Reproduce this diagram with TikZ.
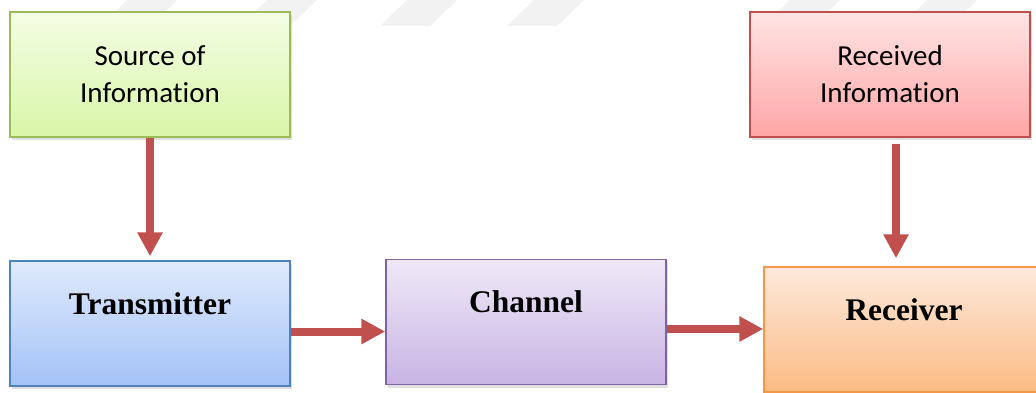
\documentclass[tikz,border=0pt]{standalone}
\usepackage{fontspec}
\setmainfont{Liberation Serif}
\newfontfamily\calibrifont[Ligatures=NoCommon]{Carlito}
\usepackage{tikz}
\usetikzlibrary{arrows.meta,shadows}

\definecolor{arrowred}{HTML}{C0504D}
\definecolor{greenline}{HTML}{9BBB59}
\definecolor{redline}{HTML}{C0504D}
\definecolor{blueline}{HTML}{4F81BD}
\definecolor{purpleline}{HTML}{8064A2}
\definecolor{orangeline}{HTML}{F79646}

\tikzset{
  block/.style={draw, line width=1.5pt, minimum width=280pt, minimum height=125pt,
    inner sep=0pt, align=center,
    drop shadow={shadow xshift=2pt, shadow yshift=-3pt, opacity=0.25}},
  infotext/.style={font=\calibrifont\fontsize{29}{37}\selectfont},
  boldtext/.style={font=\fontsize{31.5}{36}\selectfont\bfseries,
    text height=22pt, text depth=41pt},
  flow/.style={draw=arrowred, line width=8pt, -{Triangle[width=24pt,length=24pt]}},
  band/.style={fill=black!5, draw=none}
}

\begin{document}
\begin{tikzpicture}[x=1pt,y=1pt]
    \useasboundingbox (0,0) rectangle (1036,392);

    % faint watermark bands along the top
    \foreach \bx in {100,240,380,507,763,900}
      \fill[band] (\bx,366) -- (\bx+50,366) -- (\bx+77,392) -- (\bx+27,392) -- cycle;

    % upper row
    \node[block, infotext, draw=greenline, top color={rgb,255:red,244;green,253;blue,228},
      bottom color={rgb,255:red,216;green,246;blue,168}] (source) at (150,317.5) {Source of\\Information};
    \node[block, infotext, draw=redline, top color={rgb,255:red,255;green,228;blue,228},
      bottom color={rgb,255:red,255;green,166;blue,166}] (recinfo) at (890,317.5) {Received\\Information};

    % lower row
    \node[block, boldtext, draw=blueline, top color={rgb,255:red,223;green,234;blue,252},
      bottom color={rgb,255:red,163;green,194;blue,247}] (trans) at (150,68.5) {Transmitter};
    \node[block, boldtext, draw=purpleline, top color={rgb,255:red,239;green,232;blue,247},
      bottom color={rgb,255:red,200;green,180;blue,228}] (chan) at (526,70) {Channel};
    \node[block, boldtext, draw=orangeline, top color={rgb,255:red,253;green,233;blue,220},
      bottom color={rgb,255:red,251;green,187;blue,132}] (recv) at (904,62.5) {Receiver};

    % connectors
    \draw[flow, shorten >=4pt] (source.south) -- (trans.north); % source into transmitter
    \draw[flow] ([yshift=-8pt]trans.east) -- ([yshift=-8pt]trans.east -| chan.west); % transmitter to channel
    \draw[flow] ([yshift=-7pt]chan.east) -- ([yshift=-7pt]chan.east -| recv.west); % channel to receiver
    \draw[flow, shorten <=6pt, shorten >=8pt] ([xshift=6pt]recinfo.south) -- ([xshift=6pt]recinfo.south |- recv.north); % received information
\end{tikzpicture}
\end{document}
